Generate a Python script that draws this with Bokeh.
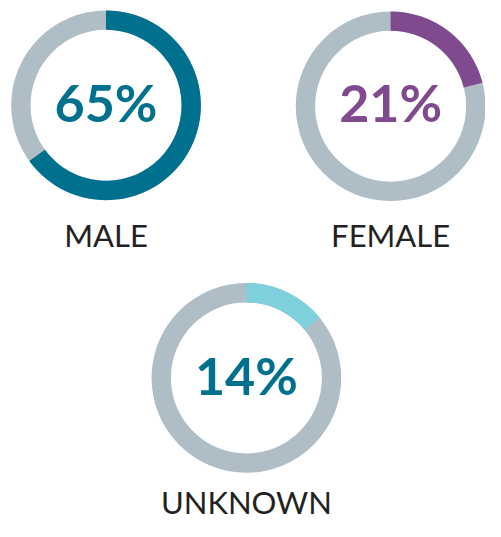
import math
from bokeh.plotting import figure
from bokeh.models import Range1d, ColumnDataSource
from bokeh.core.properties import value
from bokeh.embed import file_html
from bokeh.resources import INLINE

categories = ["MALE", "FEMALE", "UNKNOWN"]
shares = [65, 21, 14]
colors = ["#00708f", "#804a8e", "#7dd0dc"]
pct_colors = ["#00708f", "#804a8e", "#00708f"]
track_color = "#afbdc6"

# layout (reference-image pixel positions)
cx = [109, 403, 254]
cy_img = [108, 109, 389]
pct_y_img = [105, 105, 386]
label_y_img = [242, 242, 517]

W, H = 485, 521
p = figure(width=W, height=H, output_backend="svg", toolbar_location=None,
           x_range=Range1d(0, 501), y_range=Range1d(0, 537),
           min_border=0)
p.axis.visible = False
p.grid.visible = False
p.outline_line_color = None
p.background_fill_color = "white"

cy = [537 - y for y in cy_img]
py = [537 - y for y in pct_y_img]
ly = [537 - y for y in label_y_img]
start = [math.pi / 2] * 3
end = [math.pi / 2 - 2 * math.pi * s / 100 for s in shares]

src = ColumnDataSource(dict(x=cx, y=cy, py=py, start=start, end=end, color=colors,
                            pct=[f"{s}%" for s in shares], pct_color=pct_colors,
                            cat=categories, ly=ly))

p.annular_wedge(x="x", y="y", inner_radius=78, outer_radius=98,
                start_angle=0, end_angle=2 * math.pi,
                fill_color=track_color, line_color=None, source=src)
p.annular_wedge(x="x", y="y", inner_radius=78, outer_radius=98,
                start_angle="start", end_angle="end", direction="clock",
                fill_color="color", line_color=None, source=src)

p.text(x="x", y="py", text="pct", text_color="pct_color",
       text_font=value("Lato"), text_font_style="bold", text_font_size="52px",
       text_align="center", text_baseline="middle", source=src)
p.text(x="x", y="ly", text="cat", text_color="#222222",
       text_font=value("Lato"), text_font_size="31px",
       text_align="center", text_baseline="middle", source=src)

open("out.html", "w").write(file_html(p, INLINE))
